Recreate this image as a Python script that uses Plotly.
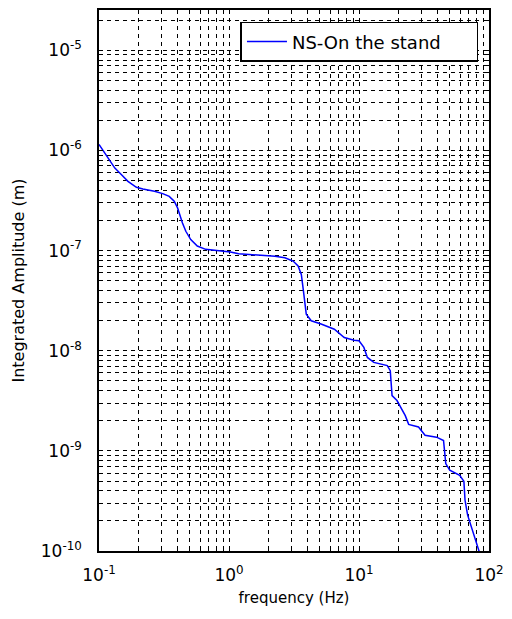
import numpy as np
import plotly.graph_objects as go

# Data (frequency in Hz, integrated amplitude in m)
freq = [0.1, 0.111, 0.1213, 0.1324, 0.149, 0.167, 0.194, 0.2175, 0.267, 0.309,
        0.347, 0.379, 0.402, 0.421, 0.4385, 0.4655, 0.508, 0.5705, 0.661, 0.806,
        1.025, 1.186, 1.684, 2.257, 2.69, 3.11, 3.40, 3.60, 3.71, 3.82,
        3.93, 4.29, 5.11, 6.46, 7.70, 9.18, 10.0, 10.9, 11.6, 13.0,
        16.5, 17.4, 17.65, 17.96, 19.6, 20.8, 22.7, 24.1, 28.7, 32.2,
        39.5, 44.7, 45.7, 46.5, 49.9, 59.5, 64.1, 65.4, 68.5, 75.4, 84.1]
amplitude = [1.15e-6, 9.4e-7, 7.78e-7, 6.67e-7, 5.73e-7, 4.92e-7, 4.29e-7, 4.12e-7, 3.91e-7, 3.71e-7,
             3.48e-7, 3.11e-7, 2.67e-7, 2.20e-7, 1.89e-7, 1.56e-7, 1.29e-7, 1.11e-7, 1.03e-7, 1.005e-7,
             9.7e-8, 9.29e-8, 9.0e-8, 8.8e-8, 8.47e-8, 7.87e-8, 7.02e-8, 5.79e-8, 4.27e-8, 3.15e-8,
             2.32e-8, 1.99e-8, 1.85e-8, 1.64e-8, 1.355e-8, 1.276e-8, 1.26e-8, 1.08e-8, 8.57e-9, 7.65e-9,
             7.10e-9, 6.32e-9, 5.02e-9, 3.56e-9, 3.18e-9, 2.73e-9, 2.25e-9, 1.84e-9, 1.73e-9, 1.43e-9,
             1.37e-9, 1.27e-9, 9.44e-10, 7.46e-10, 6.40e-10, 5.70e-10, 4.98e-10, 3.21e-10, 2.28e-10, 1.51e-10, 9.84e-11]
series_name = "NS-On the stand"

x_decades = [-1, 0, 1, 2]
y_decades = [-10, -9, -8, -7, -6, -5]
x_range_log = [-1, 2]
y_range_log = [-10, -4.597]


def log_ticks(decades, lo, hi):
    vals, texts = [], []
    for d in decades:
        for m in range(1, 10):
            v = m * 10.0 ** d
            lv = np.log10(v)
            if lv < lo - 1e-9 or lv > hi + 1e-9:
                continue
            vals.append(v)
            texts.append("10<sup>%d</sup>" % d if m == 1 else "")
    return vals, texts


xv, xt = log_ticks(x_decades, *x_range_log)
yv, yt = log_ticks(y_decades, *y_range_log)

font_family = "DejaVu Sans"

fig = go.Figure()
fig.add_trace(go.Scatter(x=freq, y=amplitude, mode="lines", name=series_name,
                         line=dict(color="#0000ff", width=1.5)))

axis_common = dict(
    showline=True, linecolor="black", linewidth=1.5, mirror="ticks",
    ticks="inside", ticklen=4, tickcolor="black", tickwidth=1,
    showgrid=True, gridcolor="black", gridwidth=1, griddash="4px,4px",
    zeroline=False, tickfont=dict(family=font_family, size=17, color="black"),
)

fig.update_xaxes(type="log", range=x_range_log, tickmode="array", tickvals=xv, ticktext=xt,
                 ticklabelstandoff=8,
                 title=dict(text="frequency (Hz)", font=dict(family=font_family, size=15, color="black"),
                            standoff=8),
                 **axis_common)
fig.update_yaxes(type="log", range=y_range_log, tickmode="array", tickvals=yv, ticktext=yt,
                 ticklabelstandoff=12,
                 title=dict(text="Integrated Amplitude (m)", font=dict(family=font_family, size=16, color="black"),
                            standoff=12),
                 **axis_common)

fig.update_layout(
    width=512, height=619,
    margin=dict(l=99, r=19, t=8, b=68),
    paper_bgcolor="white", plot_bgcolor="white",
    showlegend=True,
    legend=dict(x=0.973, y=0.978, xanchor="right", yanchor="top",
                orientation="h", entrywidth=180, entrywidthmode="pixels",
                bgcolor="white", bordercolor="black", borderwidth=1.5,
                font=dict(family=font_family, size=18, color="black"),
                itemwidth=40),
    font=dict(family=font_family, color="black"),
)

fig.write_html("out.html")
